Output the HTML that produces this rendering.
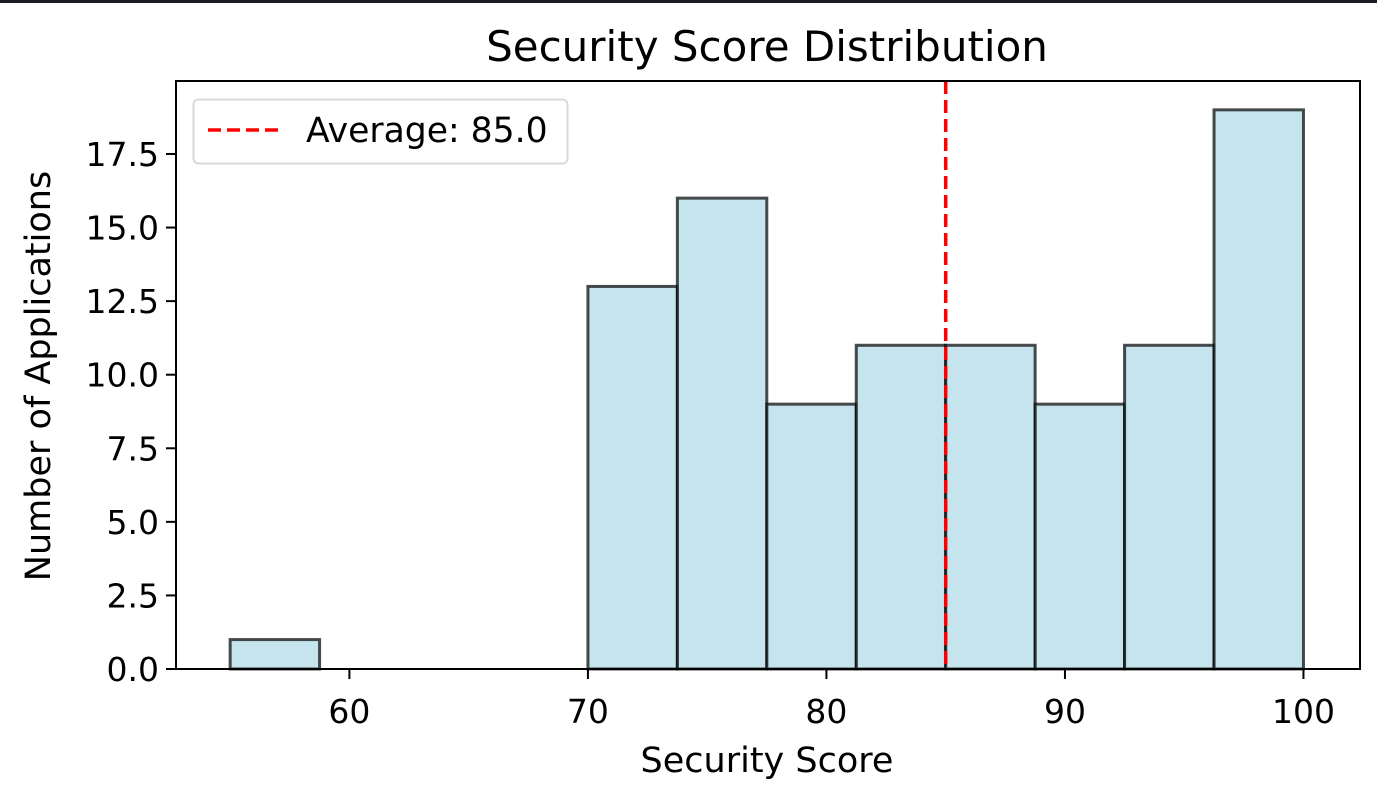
<!DOCTYPE html>
<html><head><meta charset="utf-8"><style>
html,body{margin:0;padding:0;background:#fff;}
svg{display:block;font-family:"DejaVu Sans","Liberation Sans",sans-serif;}
</style></head><body>
<svg id="chart" width="1377" height="801">
<rect x="0" y="0" width="1377" height="801" fill="#fff"/>
<rect x="0" y="0" width="1377" height="3" fill="#1a1c22"/>
<text x="767" y="61" font-size="42" text-anchor="middle" fill="#000">Security Score Distribution</text>
<g id="bars"></g>
<line id="avg" stroke="#ff0000" stroke-width="3.5" stroke-dasharray="13,6"/>
<g id="axes"></g>
<text x="767" y="772" font-size="35" text-anchor="middle">Security Score</text>
<text transform="translate(50,376) rotate(-90)" font-size="35" text-anchor="middle">Number of Applications</text>
<g>
<rect x="193.5" y="99.5" width="374" height="64" rx="5" fill="#fff" stroke="#d9d9d9" stroke-width="2"/>
<line x1="208" y1="130" x2="280" y2="130" stroke="#ff0000" stroke-width="3.5" stroke-dasharray="13,6"/>
<text x="306" y="142" font-size="34.6">Average: 85.0</text>
</g>
</svg>
<script>
const binEdges=[55,58.75,62.5,66.25,70,73.75,77.5,81.25,85,88.75,92.5,96.25,100];
const counts=[1,0,0,0,13,16,9,11,11,9,11,19];
const avgValue=85.0;
const xTicks=[60,70,80,90,100];
const yTicks=[0,2.5,5,7.5,10,12.5,15,17.5];
const yTickLabels=["0.0","2.5","5.0","7.5","10.0","12.5","15.0","17.5"];

const L=176,R=1360,T=81,B=669;
const xMin=52.73,xMax=102.37,yMax=19.98;
const xs=v=>L+(v-xMin)/(xMax-xMin)*(R-L);
const ys=v=>B-v/yMax*(B-T);
const NS="http://www.w3.org/2000/svg";
function mk(tag,attrs,parent){const e=document.createElementNS(NS,tag);for(const k in attrs)e.setAttribute(k,attrs[k]);parent.appendChild(e);return e;}

const bars=document.getElementById('bars');
counts.forEach((c,i)=>{
  if(c<=0)return;
  const x0=xs(binEdges[i]),x1=xs(binEdges[i+1]);
  const r=mk('rect',{x:x0,y:ys(c),width:x1-x0,height:ys(0)-ys(c),fill:'#add8e6','fill-opacity':0.7,stroke:'#000','stroke-opacity':0.7,'stroke-width':3},bars);
  
  
});
const avg=document.getElementById('avg');
avg.setAttribute('x1',xs(avgValue));avg.setAttribute('x2',xs(avgValue));
avg.setAttribute('y1',T);avg.setAttribute('y2',B);

const ax=document.getElementById('axes');
const frame=mk('rect',{x:L,y:T,width:R-L,height:B-T,fill:'none',stroke:'#000','stroke-width':2},ax);


xTicks.forEach(v=>{
  const x=xs(v);
  const t=mk('line',{x1:x,x2:x,y1:B,y2:B+10,stroke:'#000','stroke-width':2},ax);
  
  
  const l=mk('text',{x:x,y:B+54,'font-size':33,'text-anchor':'middle'},ax);
  l.textContent=v;
  
  
});
yTicks.forEach((v,i)=>{
  const y=ys(v);
  const t=mk('line',{x1:L-10,x2:L,y1:y,y2:y,stroke:'#000','stroke-width':2},ax);
  
  
  const l=mk('text',{x:L-17,y:y+12,'font-size':33,'text-anchor':'end'},ax);
  l.textContent=yTickLabels[i];
  
  
});
</script>
</body></html>
